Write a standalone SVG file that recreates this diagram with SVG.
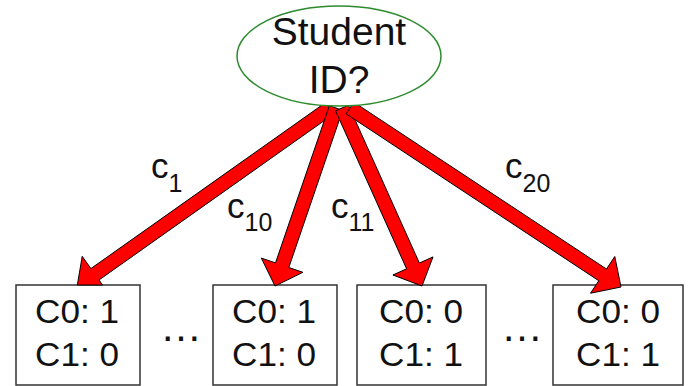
<svg xmlns="http://www.w3.org/2000/svg" width="690" height="386" viewBox="0 0 690 386">
  <style>
    .box { fill: #ffffff; stroke: #333333; stroke-width: 1.5; }
    .cnt { font-family: "Liberation Sans", Arial, sans-serif; font-size: 33px; fill: #111111; }
    .lbl { font-family: "Liberation Sans", Arial, sans-serif; font-size: 35px; fill: #111111; }
    .sub { font-size: 25px; }
    .arrow { fill: #ff0000; stroke: #000000; stroke-width: 1; stroke-linejoin: miter; }
    .dots { font-family: "Liberation Sans", Arial, sans-serif; font-size: 42px; fill: #111111; }
  </style>

  <!-- leaf nodes -->
  <g id="leaf-c1">
    <rect class="box" x="16" y="285" width="124" height="100"/>
    <text class="cnt" x="77" y="323" text-anchor="middle" textLength="84" lengthAdjust="spacingAndGlyphs">C0: 1</text>
    <text class="cnt" x="77" y="366" text-anchor="middle" textLength="84" lengthAdjust="spacingAndGlyphs">C1: 0</text>
  </g>
  <g id="leaf-c10">
    <rect class="box" x="213" y="285" width="124" height="100"/>
    <text class="cnt" x="274" y="323" text-anchor="middle" textLength="84" lengthAdjust="spacingAndGlyphs">C0: 1</text>
    <text class="cnt" x="274" y="366" text-anchor="middle" textLength="84" lengthAdjust="spacingAndGlyphs">C1: 0</text>
  </g>
  <g id="leaf-c11">
    <rect class="box" x="357" y="285" width="129" height="100"/>
    <text class="cnt" x="421" y="323" text-anchor="middle" textLength="84" lengthAdjust="spacingAndGlyphs">C0: 0</text>
    <text class="cnt" x="421" y="366" text-anchor="middle" textLength="84" lengthAdjust="spacingAndGlyphs">C1: 1</text>
  </g>
  <g id="leaf-c20">
    <rect class="box" x="553" y="285" width="130" height="100"/>
    <text class="cnt" x="618" y="323" text-anchor="middle" textLength="84" lengthAdjust="spacingAndGlyphs">C0: 0</text>
    <text class="cnt" x="618" y="366" text-anchor="middle" textLength="84" lengthAdjust="spacingAndGlyphs">C1: 1</text>
  </g>

  <!-- elided siblings -->
  <text class="dots" x="181" y="341" text-anchor="middle">…</text>
  <text class="dots" x="522" y="341" text-anchor="middle">…</text>

  <!-- branches -->
  <g id="connectors">
    <polygon class="arrow" points="325.95,102.29 90.9,268.57 82.23,256.33 77.34,285 102.5,285 99.0,279.99 334.05,113.71"/>
    <polygon class="arrow" points="329.4,105.7 275.5,262.9 261.3,258.1 275,286 302.9,272.3 288.8,267.5 342.6,110.3"/>
    <polygon class="arrow" points="335.6,110.9 406.6,268.8 392.9,275.0 422,286 433.0,256.9 419.4,263.1 348.4,105.1"/>
    <polygon class="arrow" points="346.14,113.84 598.79,280.72 590.53,293.23 621,287 614.77,256.53 606.51,269.04 353.86,102.16"/>
    <text class="lbl" x="151" y="178">c<tspan class="sub" dy="14">1</tspan></text>
    <text class="lbl" x="227" y="218">c<tspan class="sub" dy="13">10</tspan></text>
    <text class="lbl" x="331" y="218">c<tspan class="sub" dy="13">11</tspan></text>
    <text class="lbl" x="505" y="178">c<tspan class="sub" dy="14">20</tspan></text>
  </g>

  <!-- root test node -->
  <g id="root">
    <ellipse cx="339" cy="56" rx="102" ry="50" fill="#ffffff" stroke="#2e8b2e" stroke-width="1.5"/>
    <text x="339" y="45" text-anchor="middle" font-family="Liberation Sans, Arial, sans-serif" font-size="39" fill="#111111">Student</text>
    <text x="339" y="93" text-anchor="middle" font-family="Liberation Sans, Arial, sans-serif" font-size="39" fill="#111111">ID?</text>
  </g>
</svg>
